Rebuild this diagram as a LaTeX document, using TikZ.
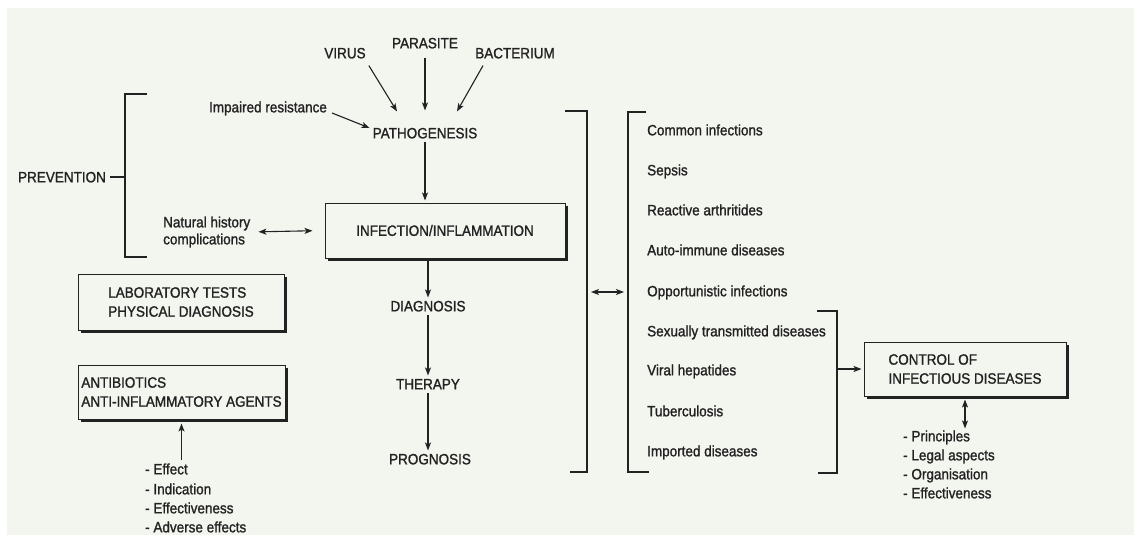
\documentclass[tikz,border=0pt]{standalone}
\usepackage{fontspec}
\setmainfont{Liberation Sans}[FakeStretch=0.9,FakeBold=1.3]
\usetikzlibrary{arrows.meta,calc}
\definecolor{page}{HTML}{F3F5EF}
\definecolor{ink}{HTML}{222222}
\tikzset{
  lbl/.style={inner sep=3pt, text height=10.7pt, text depth=0pt},
  item/.style={lbl, anchor=west, inner sep=0pt},
  box/.style={draw=ink, line width=1pt, align=left, inner sep=0pt},
  arr/.style={draw=ink, line width=1.1pt, -{Stealth[length=8pt,width=6pt,inset=2pt]}},
  darr/.style={draw=ink, line width=1.1pt, {Stealth[length=8pt,width=6pt,inset=2pt]}-{Stealth[length=8pt,width=6pt,inset=2pt]}},
  ln/.style={draw=ink, line width=1.1pt},
  shadowline/.style={draw=ink, line width=2.4pt}
}
\newcommand\boxshadow[1]{\draw[shadowline] ([shift={(1.3,3)}]#1.north east) -- ([shift={(1.3,1.3)}]#1.south east) -- ([shift={(3,1.3)}]#1.south west);}
\begin{document}
\begin{tikzpicture}[x=1pt,y=-1pt, every node/.style={text=ink, font=\fontsize{15}{19}\selectfont}]
\useasboundingbox (0,0) rectangle (1134,535);
\fill[white] (0,0) rectangle (1134,535);
\fill[page] (7,8) rectangle (1134,535);

% top causes
\node[lbl] (virus) at (345,53) {VIRUS};
\node[lbl] (parasite) at (425,43) {PARASITE};
\node[lbl] (bacterium) at (515,53) {BACTERIUM};
\node[lbl] (impaired) at (268,107) {Impaired resistance};
\node[lbl] (patho) at (425,133) {PATHOGENESIS};

\draw[arr] ([shift={(0,4)}]virus.south east) -- ([shift={(-28,-13)}]patho.north);
\draw[arr, shorten <=6pt] (parasite.south) -- ([shift={(0,-14)}]patho.north);
\draw[arr] ([shift={(11,4)}]bacterium.south west) -- ([shift={(32,-13)}]patho.north);
\draw[arr] ([shift={(2,6)}]impaired.east) -- ([shift={(0,-5)}]patho.west);

% main chain
\node[box, minimum width=240pt, minimum height=55pt, align=center] (infect) at (445,230.5) {INFECTION/INFLAMMATION};
\boxshadow{infect}
\node[lbl] (diag) at (428,306) {DIAGNOSIS};
\node[lbl] (ther) at (428,384) {THERAPY};
\node[lbl] (prog) at (430,459) {PROGNOSIS};

\draw[arr, shorten >=2pt] (patho.south) -- (patho.south |- infect.north);
\draw[arr, shorten <=2pt] (diag.north |- infect.south) -- (diag.north);
\draw[arr] (diag.south) -- (ther.north);
\draw[arr] (ther.south) -- (ther.south |- prog.north);

% prevention
\node[lbl, inner sep=0pt] (prev) at (62,177) {PREVENTION};
\coordinate (pb) at (125,177);
\draw[ln] (prev.east) ++(4,0) -- (pb);
\draw[ln] (147,94) -- (125,94) -- (125,257) -- (147,257);

\node[anchor=west, align=left, inner sep=0pt, font=\fontsize{15}{17}\selectfont] (nat) at (163,232) {Natural history\\complications};
\draw[darr, shorten <=8pt, shorten >=12pt] (nat.east) -- (infect.west);

% left boxes
\node[box, minimum width=206pt, minimum height=56pt] (lab) at (181,302) {LABORATORY TESTS\\PHYSICAL DIAGNOSIS};
\boxshadow{lab}
\node[box, minimum width=207pt, minimum height=54pt] (anti) at (181.5,392) {ANTIBIOTICS\\ANTI-INFLAMMATORY AGENTS};
\boxshadow{anti}

\node[item] (e1) at (145,469) {- Effect};
\node[item] (e2) at (145,489) {- Indication};
\node[item] (e3) at (145,508) {- Effectiveness};
\node[item] (e4) at (145,527) {- Adverse effects};
\draw[arr, shorten <=3pt, shorten >=4pt] (anti.south |- e1.north) -- (anti.south);

% brackets middle
\draw[ln] (565,111) -- (587,111) -- (587,472) -- (570,472);
\draw[ln] (646,112) -- (628,112) -- (628,472) -- (649,472);
\coordinate (b1) at (587,292);
\coordinate (b2) at (628,292);
\draw[darr, shorten <=4pt, shorten >=4pt] (b1) -- (b2);

% disease list
\node[item] (d1) at (647,130) {Common infections};
\node[item] (d2) at (647,170) {Sepsis};
\node[item] (d3) at (647,210) {Reactive arthritides};
\node[item] (d4) at (647,250) {Auto-immune diseases};
\node[item] (d5) at (647,291) {Opportunistic infections};
\node[item] (d6) at (647,331) {Sexually transmitted diseases};
\node[item] (d7) at (647,370) {Viral hepatides};
\node[item] (d8) at (647,411) {Tuberculosis};
\node[item] (d9) at (647,451) {Imported diseases};

% right bracket and control box
\draw[ln] (817,311) -- (837,311) -- (837,473) -- (818,473);
\node[box, minimum width=202pt, minimum height=54pt] (control) at (965,369) {CONTROL OF\\INFECTIOUS DISEASES};
\boxshadow{control}
\coordinate (b3) at (837,369);
\draw[arr, shorten >=2pt] (b3) -- (control.west);

\node[item] (p1) at (903,436) {- Principles};
\node[item] (p2) at (903,455) {- Legal aspects};
\node[item] (p3) at (903,474) {- Organisation};
\node[item] (p4) at (903,493) {- Effectiveness};
\draw[darr, shorten <=3pt, shorten >=2pt] (control.south) -- (control.south |- p1.north);
\end{tikzpicture}
\end{document}
